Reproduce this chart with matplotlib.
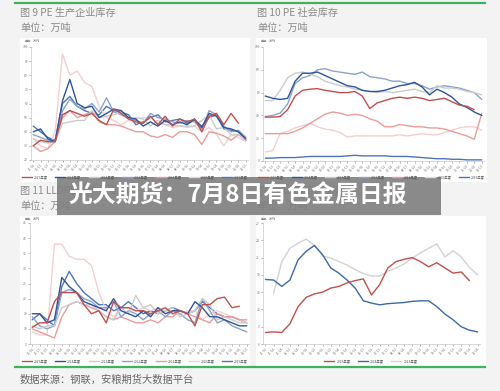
import numpy as np
import matplotlib; matplotlib.use('agg')
import matplotlib.pyplot as plt
from matplotlib.patches import Rectangle
from matplotlib.lines import Line2D

plt.rcParams['font.family'] = ['Noto Sans CJK SC', 'DejaVu Sans']

nan = np.nan
W, H = 500, 391

# ---- data ----
years7 = ['2025年度', '2024年度', '2023年度', '2022年度', '2021年度', '2020年度', '2019年度']
years3 = ['2025年度', '2024年度', '2023年度']

dates30 = ['01-01', '01-13', '01-25', '02-06', '02-18', '03-02', '03-14', '03-26', '04-07', '04-19',
           '05-01', '05-13', '05-25', '06-06', '06-18', '06-30', '07-12', '07-24', '08-05', '08-17',
           '08-29', '09-10', '09-22', '10-04', '10-16', '10-28', '11-09', '11-21', '12-03', '12-15']
dates27 = ['01-01', '01-14', '01-28', '02-10', '02-24', '03-09', '03-23', '04-06', '04-20', '05-04',
           '05-18', '06-01', '06-15', '06-29', '07-13', '07-27', '08-10', '08-24', '09-07', '09-21',
           '10-05', '10-19', '11-02', '11-16', '11-30', '12-14', '12-28']

# 图9 PE 生产企业库存
pe_prod_2025 = [30, 34, 33, 33, 52, 55, 53, 51, 53, 48, 45, 56, 53, 49, 47, 46, 51, 45, 51, 44, 49, 47, 49, 40, 51, 53, 45, 53, 46, nan]
pe_prod_2024 = [40, 42, 35, 33, 62, 77, 60, 57, 58, 50, 53, 56, 55, 50, 49, 44, 47, 44, 48, 45, 47, 45, 49, 43, 53, 51, 43, 42, 40, 35]
pe_prod_2023 = [35, 33, 32, 33, 46, 47, 48, 48, 55, 50, 51, 52, 54, 49, 50, 49, 44, 48, 45, 45, 44, 44, 44, 48, 52, 42, 43, 38, 38, 35]
pe_prod_2022 = [38, 36, 34, 34, 55, 63, 58, 56, 60, 54, 64, 54, 52, 50, 48, 46, 53, 50, 49, 47, 46, 48, 47, 42, 55, 52, 44, 40, 41, 36]
pe_prod_2021 = [30, 26, 28, 33, 50, 55, 50, 52, 54, 47, 45, 45, 44, 42, 40, 40, 37, 36, 38, 36, 40, 40, 38, 31, 40, 39, 37, 34, 38, 34]
pe_prod_2020 = [35, 30, 28, 40, 95, 80, 83, 75, 72, 58, 50, 48, 45, 48, 49, 50, 50, 46, 45, 43, 44, 43, 44, 40, 43, 38, 30, 38, 36, 33]
pe_prod_2019 = [44, 40, 36, 34, 60, 65, 58, 55, 53, 52, 58, 55, 54, 52, 45, 47, 50, 52, 47, 48, 49, 46, 48, 44, 50, 52, 42, 41, 40, 34]

# 图10 PE 社会库存
pe_soc_2025 = [38.5, 38.5, 39, 45, 57, 62, 63, 63.5, 62, 61, 60, 60, 61, 57, 46, 51, 53, 55, 56, 55, 56, 55, 53, 54, 55, 52, 49, 48, 45, nan]
pe_soc_2024 = [57, 55, 54, 55, 70, 77, 77, 78, 75, 72, 69, 66, 65, 62, 61, 61, 62, 64, 66, 67, 69, 65, 58, 63, 60, 56, 50, 47, 43, 40]
pe_soc_2023 = [53, 53, 62, 73, 77, 78, 76, 74, 70, 68, 66, 65, 63, 62, 61, 60, 61, 60, 61, 62, 63, 61, 60, 66, 64, 64, 63, 61, 60, 58]
pe_soc_2022 = [39, 40, 42, 50, 68, 73, 75, 80, 81, 79, 78, 77, 76, 78, 74, 73, 72, 70, 70, 68, 68, 66, 63, 65, 66, 65, 64, 62, 60, 54]
pe_soc_2021 = [24, 24, 24, 24, 26, 29, 33, 37, 41, 43, 42, 40, 41, 40, 37, 35, 30, 30, 32, 31, 30, 30, 29, 29, 28, 26, 24, 22, 19, 42]
pe_soc_2020 = [8, 9, 24, 26, 29, 31, 33, 30, 28, 27, 25, 21, 22, 22, 22, 22, 22, 22, 23, 22, 23, 24, 23, 23, 25, 27, 29, 30, 30, 27]
pe_soc_2019 = [2.5, 2.5, 3, 3, 3, 3.5, 4, 4, 4, 4, 4, 4.5, 5, 4.5, 4.5, 4.5, 4.5, 4, 4, 4, 3.5, 3, 2.5, 2, 2, 1.5, 1.5, 1, 1, 1]

# 图11 LLDPE 生产企业库存
ll_prod_2025 = [10.5, 12, 12, 19, 22, 22, 22, 18, 15, 16, 12, 19, 17, 17, 16, 16, 15, 16, 17, 15, 16, 15, 11, 18, 18, 20, 20.5, 17, 17.5, nan]
ll_prod_2024 = [15, 15, 12, 13, 27, 24, 22, 19, 18, 17, 16, 20, 16, 15, 14, 16, 14, 17, 15, 16, 16, 15, 19, 17, 14, 14, 13, 12, 11, 11]
ll_prod_2023 = [11, 10, 11, 11, 17, 18, 19, 18, 18, 16, 14, 13, 17, 15, 21, 17, 18, 15, 16, 17, 14, 15, 16, 20, 18, 13, 14, 13, 12, 12]
ll_prod_2022 = [14, 11, 10, 11, 22, 23, 22, 20, 19, 17, 17, 19, 14, 16, 15, 13, 15, 16, 14, 16, 15, 13, 12, 20, 16, 12, 13, 11, 10, 9]
ll_prod_2021 = [10, 9, 8, 7, 14, 18, 19, 18, 17, 16, 14, 13, 14, 13, 12, 12, 13, 12, 14, 14, 16, 15, 14, 13, 12, 15, 14, 14, 13, 13]
ll_prod_2020 = [9, 8, 8, 38, 38, 34, 33, 33, 31, 22, 16, 14, 17, 17, 16, 17, 16, 17, 16, 15, 15, 16, 16, 13, 15, 16, 15, 14, 13, 12]
ll_prod_2019 = [13, 15, 13, 11, 24, 29, 25, 22, 20, 18, 18, 16, 17, 19, 17, 15, 16, 15, 16, 17, 16, 15, 16, 19, 17, 15, 14, 14, 13, 12]

# 图12 LLDPE 社会库存
ll_soc_2025 = [8.0, 8.1, 8.0, 9.5, 12.5, 14.1, 14.7, 15.0, 15.7, 16.0, 16.6, 17.0, 17.3, 14.5, 16.3, 19.2, 20.3, 20.7, 21.0, 20.3, 19.4, 20.1, 19.2, 18.3, 18.5, 17.0, nan]
ll_soc_2024 = [17.2, 17.1, 16.0, 17.1, 20.6, 22.1, 23.1, 21.5, 19.2, 18.3, 17.1, 15.7, 13.5, 13.1, 12.8, 13.0, 13.1, 13.2, 13.4, 13.5, 13.5, 12.5, 11.2, 10.2, 9.0, 8.4, 8.1]
ll_soc_2023 = [nan, 14.8, 20.3, 22.6, 23.5, 24.2, 23.1, 21.3, 20.9, 20.3, 19.7, 18.9, 18.2, 17.8, 17.8, 18.6, 19.2, 19.9, 20.9, 21.8, 22.6, 23.4, 21.1, 22.2, 21.1, 19.3, 18.0]

colors7 = ['#c0504d', '#2e5597', '#cbcbcb', '#8ba3c9', '#e89c9c', '#f3cfcf', '#4f74b8']
colors3 = ['#c0504d', '#3d6aa3', '#d2d2d2']

fig = plt.figure(figsize=(5, 3.91), dpi=100)
fig.patch.set_facecolor('#f3f3f3')


def px_rect(x0, y0, x1, y1):
    # pixel box (top-left origin) -> figure fraction
    return [x0 / W, 1 - y1 / H, (x1 - x0) / W, (y1 - y0) / H]


def white_box(x0, y0, x1, y1):
    r = px_rect(x0, y0, x1, y1)
    fig.patches.append(Rectangle((r[0], r[1]), r[2], r[3], transform=fig.transFigure,
                                 facecolor='white', edgecolor='none', zorder=-5))


def panel(box, area, series, names, colors, dates, ylim, yticks, legend_y):
    white_box(*box)
    ax = fig.add_axes(px_rect(*area))
    ax.set_zorder(2)
    ax.set_facecolor('none')
    x = np.arange(len(dates))
    for s, c in zip(series[::-1], colors[::-1]):
        ax.plot(x, s, color=c, lw=1.0, solid_capstyle='round')
    ax.set_xlim(-0.3, len(dates) - 0.7)
    ax.set_ylim(*ylim)
    ax.set_yticks(yticks)
    ax.set_xticks(x)
    ax.set_xticklabels(dates, rotation=45, ha='right', rotation_mode='anchor')
    ax.tick_params(labelsize=2.4, colors='#7a7a7a', length=1.2, width=0.4, pad=1)
    for sp in ['top', 'right']:
        ax.spines[sp].set_visible(False)
    for sp in ['left', 'bottom']:
        ax.spines[sp].set_color('#c8c8c8')
        ax.spines[sp].set_linewidth(0.5)
    fig.text((box[0] + 5) / W, 1 - (box[1] + 3) / H, '单位：万吨', fontsize=2.2, color='#7a7a7a', va='center')
    handles = [Line2D([], [], color=c, lw=1.0) for c in colors]
    cx = (box[0] + box[2]) / 2
    fig.legend(handles, names, loc='center', bbox_to_anchor=(cx / W, 1 - legend_y / H),
               ncol=len(names), frameon=False, fontsize=2.4, handlelength=3.0,
               columnspacing=2.2, handletextpad=0.6, labelcolor='#555555')
    return ax


panel((20, 38, 250, 182), (31, 47, 248, 160),
      [pe_prod_2025, pe_prod_2024, pe_prod_2023, pe_prod_2022, pe_prod_2021, pe_prod_2020, pe_prod_2019],
      years7, colors7, dates30, (20, 100), range(20, 101, 10), 177)
panel((256, 38, 487, 182), (263, 47, 484, 161),
      [pe_soc_2025, pe_soc_2024, pe_soc_2023, pe_soc_2022, pe_soc_2021, pe_soc_2020, pe_soc_2019],
      years7, colors7, dates30, (0, 100), range(0, 101, 20), 177)
panel((20, 216, 250, 366), (30, 223, 249, 344),
      [ll_prod_2025, ll_prod_2024, ll_prod_2023, ll_prod_2022, ll_prod_2021, ll_prod_2020, ll_prod_2019],
      years7, colors7, dates30, (5, 45), range(5, 46, 5), 361)
panel((256, 216, 486, 366), (263, 223, 480, 344),
      [ll_soc_2025, ll_soc_2024, ll_soc_2023],
      years3, colors3, dates27, (6, 27), range(6, 28, 3), 361)

# titles
title_kw = dict(fontsize=7.3, color='#8a8a8a', va='center')
fig.text(20 / W, 1 - 13 / H, '图 9 PE 生产企业库存', **title_kw)
fig.text(20 / W, 1 - 28 / H, '单位：万吨', **title_kw)
fig.text(257 / W, 1 - 13 / H, '图 10 PE 社会库存', **title_kw)
fig.text(257 / W, 1 - 28 / H, '单位：万吨', **title_kw)
fig.text(20 / W, 1 - 191 / H, '图 11 LLDPE 生产企业库存', **title_kw)
fig.text(20 / W, 1 - 206 / H, '单位：万吨', **title_kw)
fig.text(257 / W, 1 - 191 / H, '图 12 LLDPE 社会库存', **title_kw)
fig.text(257 / W, 1 - 206 / H, '单位：万吨', **title_kw)
fig.text(20 / W, 1 - 380 / H, '数据来源：钢联，安粮期货大数据平台', fontsize=7.4, color='#666666', va='center')

# green rules
for yy in (3, 367):
    fig.lines.append(Line2D([15 / W, 485 / W], [1 - yy / H, 1 - yy / H], transform=fig.transFigure,
                            color='#3db35a', lw=1.6))

# banner
r = px_rect(57, 177, 441, 215)
fig.patches.append(Rectangle((r[0], r[1]), r[2], r[3], transform=fig.transFigure,
                             facecolor='#7f7f7f', edgecolor='none', alpha=0.9, zorder=5))
fig.text(68 / W, 1 - 196 / H, '光大期货：7月8日有色金属日报', fontsize=17.2, fontweight='bold',
         color='white', va='center', zorder=6)

fig.savefig('out.png', dpi=100, facecolor=fig.get_facecolor())
